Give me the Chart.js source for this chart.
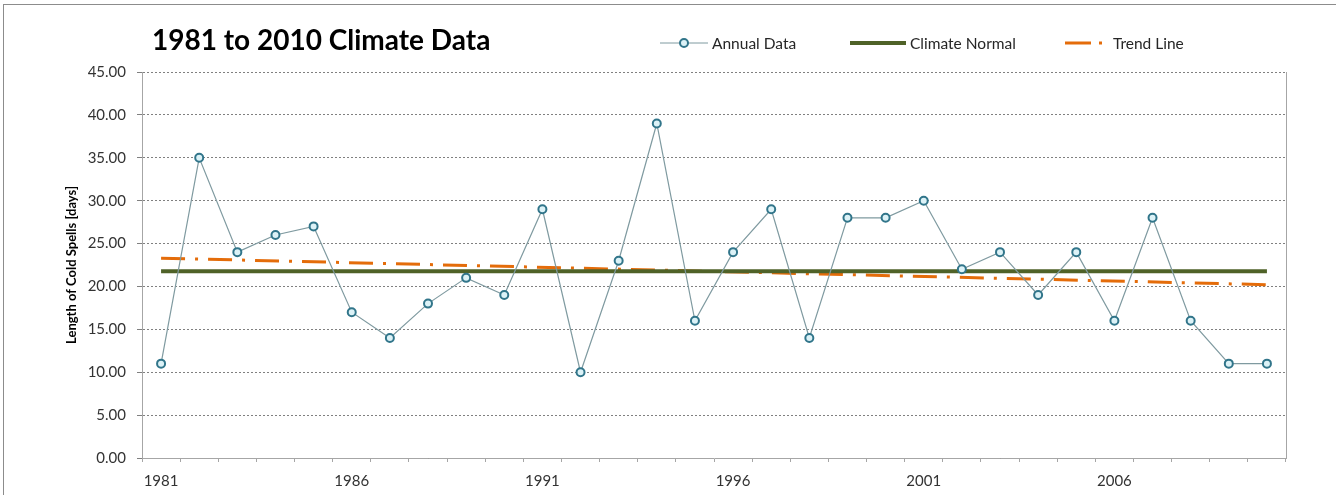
<!DOCTYPE html>
<html>
<head>
<meta charset="utf-8">
<script src="https://cdn.jsdelivr.net/npm/chart.js@4/dist/chart.umd.min.js"></script>
<style>
  body { margin: 0; background: #fff; font-family: Lato, "Open Sans", sans-serif; }
  #frame { position: absolute; left: 3px; top: 4px; width: 1345px; height: 500px; border: 1px solid #8c8c8c; }
  #wrap { position: absolute; left: 0; top: 0; width: 1336px; height: 495px; }
  #title { position: absolute; left: 152px; top: 22px; font-size: 28px; font-weight: bold; color: #000; }
  #legend { position: absolute; top: 34px; left: 660px; font-size: 15.5px; color: #262626; }
  .item { position: absolute; white-space: nowrap; display: flex; align-items: center; }
  .item svg { margin-right: 4px; }
</style>
</head>
<body>
<div id="frame"></div>
<div id="wrap"><canvas id="chart" width="1336" height="495"></canvas></div>
<div id="title">1981 to 2010 Climate Data</div>
<div id="legend">
  <div class="item" style="left:0px"><svg width="48" height="12"><line x1="0" y1="6" x2="48" y2="6" stroke="#7f9aa0" stroke-width="1"/><circle cx="24" cy="6" r="4" fill="#dcf2f7" stroke="#31758a" stroke-width="2"/></svg>Annual Data</div>
  <div class="item" style="left:190px"><svg width="56" height="12"><line x1="0" y1="6" x2="56" y2="6" stroke="#4f6228" stroke-width="4"/></svg>Climate Normal</div>
  <div class="item" style="left:405px"><svg width="44" height="12"><line x1="0" y1="6" x2="26" y2="6" stroke="#e46c0a" stroke-width="3"/><line x1="34" y1="6" x2="37" y2="6" stroke="#e46c0a" stroke-width="3"/></svg>Trend Line</div>
</div>
<script>
const years = [1981, 1982, 1983, 1984, 1985, 1986, 1987, 1988, 1989, 1990,
               1991, 1992, 1993, 1994, 1995, 1996, 1997, 1998, 1999, 2000,
               2001, 2002, 2003, 2004, 2005, 2006, 2007, 2008, 2009, 2010];
const annualData = [11, 35, 24, 26, 27, 17, 14, 18, 21, 19,
                    29, 10, 23, 39, 16, 24, 29, 14, 28, 28,
                    30, 22, 24, 19, 24, 16, 28, 16, 11, 11];
const climateNormal = 21.77;
const trendStart = 23.3;
const trendEnd = 20.2;
const yTicks = [0, 5, 10, 15, 20, 25, 30, 35, 40, 45];

const normalData = years.map(() => climateNormal);
const trendData = years.map((y, i) => i === 0 ? trendStart : (i === years.length - 1 ? trendEnd : null));

// right border of the plot area
const rightBorder = {
  id: 'rightBorder',
  afterDraw(chart) {
    const a = chart.chartArea, c = chart.ctx;
    c.save();
    c.strokeStyle = '#a6a6a6';
    c.lineWidth = 1;
    c.beginPath();
    c.moveTo(a.right + 0.5, a.top);
    c.lineTo(a.right + 0.5, a.bottom);
    c.stroke();
    c.restore();
  }
};

const ctx = document.getElementById('chart').getContext('2d');
new Chart(ctx, {
  type: 'line',
  data: {
    labels: years,
    datasets: [{
      label: 'Annual Data',
      data: annualData,
      borderColor: '#7f9aa0',
      borderWidth: 1.2,
      pointRadius: 4,
      pointBorderWidth: 2,
      pointBorderColor: '#31758a',
      pointBackgroundColor: '#dcf2f7',
      order: 1
    }, {
      label: 'Climate Normal',
      data: normalData,
      borderColor: '#4f6228',
      borderWidth: 4,
      pointRadius: 0,
      order: 2
    }, {
      label: 'Trend Line',
      data: trendData,
      spanGaps: true,
      borderColor: '#e46c0a',
      borderWidth: 3,
      borderDash: [24, 10, 3, 10],
      pointRadius: 0,
      order: 3
    }]
  },
  options: {
    responsive: false,
    animation: false,
    layout: { padding: { left: 0, right: 50, top: 72, bottom: 0 } },
    plugins: { legend: { display: false }, tooltip: { enabled: false } },
    scales: {
      x: {
        offset: true,
        grid: { offset: true, drawOnChartArea: false, tickLength: 4, color: '#a6a6a6' },
        border: { color: '#a6a6a6' },
        ticks: {
          autoSkip: false, maxRotation: 0, padding: 10,
          color: '#333', font: { family: 'Lato', size: 15 },
          callback: (v, i) => i % 5 === 0 ? years[i] : ''
        },
        afterFit: s => { s.height = 37; }
      },
      y: {
        min: 0, max: 45,
        afterBuildTicks: s => { s.ticks = yTicks.map(v => ({ value: v })); },
        grid: { color: '#808080', tickLength: 5 },
        border: { color: '#a6a6a6', dash: [2, 2] },
        ticks: {
          padding: 11, color: '#333', font: { family: 'Lato', size: 15 },
          callback: v => v.toFixed(2)
        },
        title: {
          display: true, text: 'Length of Cold Spells [days]',
          color: '#000', font: { family: 'Lato', size: 13, weight: 'bold' },
          padding: { top: 64, bottom: 0 }
        },
        afterFit: s => { s.width = 142; }
      }
    }
  },
  plugins: [rightBorder]
});
</script>
</body>
</html>
